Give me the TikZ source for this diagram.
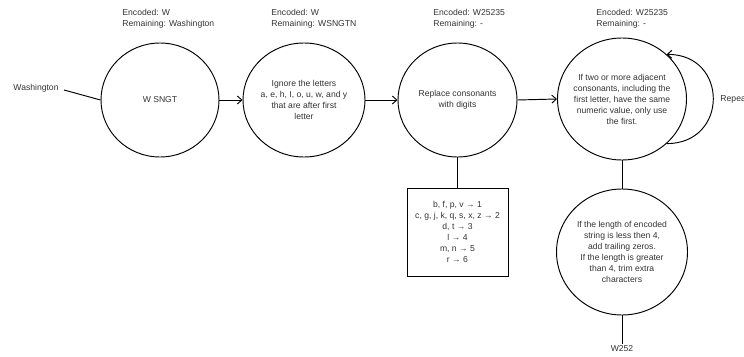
\documentclass[tikz,border=0pt]{standalone}
\usepackage{fontspec}
\setmainfont{Liberation Sans}
\usetikzlibrary{arrows.meta,shapes.geometric}

\begin{document}
\begin{tikzpicture}[x=1pt,y=-1pt,line width=0.95pt,
  >={Straight Barb[length=4.5pt,width=8pt]},
  font=\fontsize{8.6}{11}\selectfont,
  stepnode/.style={ellipse,draw,inner sep=0pt},
  txt/.style={align=center,text=black!80,inner sep=1pt},
  status/.style={align=left,anchor=north west,inner sep=0pt,text=black!80}]
\useasboundingbox (0,0) rectangle (744,356);
% ---- input ----
\node[txt] (input) at (36,88) {Washington};
% ---- the five steps ----
\node[stepnode,minimum width=118,minimum height=114] (first) at (160,100) {};
\node[txt] (firsttxt) at (first) {W SNGT};
\node[stepnode,minimum width=122,minimum height=114] (ignore) at (304,100) {};
\node[txt] (ignoretxt) at (ignore) {Ignore the letters\\a, e, h, I, o, u, w, and y\\that are after first\\letter};
\node[stepnode,minimum width=119,minimum height=114] (replace) at (457.5,100) {};
\node[txt] (replacetxt) at (replace) {Replace consonants\\with digits};
\node[stepnode,minimum width=129,minimum height=122] (merge) at (622,99) {};
\node[txt] (mergetxt) at (merge) {If two or more adjacent\\consonants, including the\\first letter, have the same\\numeric value, only use\\the first.};
\node[stepnode,minimum width=131,minimum height=126] (pad) at (622,252) {};
\node[txt] (padtxt) at (pad) {If the length of encoded\\string is less then 4,\\add trailing zeros.\\If the length is greater\\than 4, trim extra\\characters};
% ---- digit table ----
\node[draw,minimum width=101,minimum height=88,txt] (table) at (457.5,232)
  {b, f, p, v → 1\\c, g, j, k, q, s, x, z → 2\\d, t → 3\\l → 4\\m, n → 5\\r → 6};
% ---- output ----
\node[txt] (output) at (622,349) {W252};
% ---- status above each step ----
\node[status] (st1) at (122,9) {Encoded: W\\Remaining: Washington};
\node[status] (st2) at (271,9) {Encoded: W\\Remaining: WSNGTN};
\node[status] (st3) at (433,9) {Encoded: W25235\\Remaining: -};
\node[status] (st4) at (596,9) {Encoded: W25235\\Remaining: -};
% ---- connectors ----
\draw ([xshift=4pt,yshift=-2pt]input.east) -- (first.west);
\draw[->] (first.east) -- (ignore.west);
\draw[->] (ignore.east) -- (replace.west);
\draw[->] (replace.east) -- (merge.west);
\draw (replace.south) -- (table.north);
\draw (merge.south) -- (pad.north);
\draw (pad.south) -- (output.north);
% ---- repeat loop ----
\draw[->] (merge.-45) .. controls +(62,0) and +(62,0) .. (merge.45);
\node[txt,anchor=west] (repeat) at (719,99) {Repeat};
\end{tikzpicture}
\end{document}
